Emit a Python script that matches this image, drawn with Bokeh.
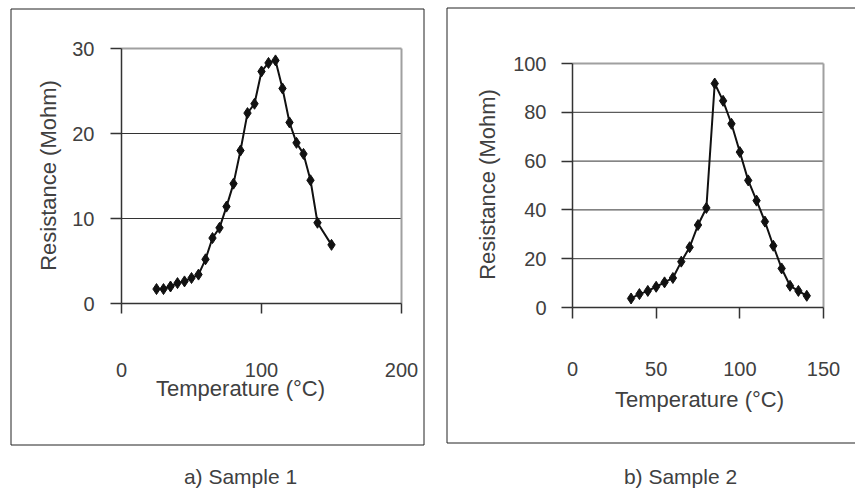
import math
from bokeh.plotting import figure
from bokeh.layouts import row
from bokeh.models import Range1d, FixedTicker, Label, BoxAnnotation, ColumnDataSource
from bokeh.embed import file_html
from bokeh.resources import INLINE

# ---- data ----
temp1 = [25, 30, 35, 40, 45, 50, 55, 60, 65, 70, 75, 80, 85, 90, 95, 100, 105, 110,
         115, 120, 125, 130, 135, 140, 150]
res1 = [1.7, 1.7, 2.0, 2.4, 2.6, 3.0, 3.4, 5.2, 7.7, 8.9, 11.4, 14.1, 18.0, 22.4, 23.5,
        27.3, 28.3, 28.6, 25.3, 21.3, 18.9, 17.6, 14.5, 9.5, 6.9]

temp2 = [35, 40, 45, 50, 55, 60, 65, 70, 75, 80, 85, 90, 95, 100, 105, 110, 115, 120,
         125, 130, 135, 140]
res2 = [3.7, 5.5, 6.8, 8.5, 10.3, 12.1, 18.8, 24.7, 33.8, 40.8, 91.8, 84.7, 75.3, 63.7,
        52.1, 43.8, 35.2, 25.3, 16.0, 8.9, 6.8, 4.8]

x_ticks1 = [0, 100, 200]
y_ticks1 = [0, 10, 20, 30]
x_ticks2 = [0, 50, 100, 150]
y_ticks2 = [0, 20, 40, 60, 80, 100]
captions = ["a) Sample 1", "b) Sample 2"]
x_label = "Temperature (°C)"
y_label = "Resistance (Mohm)"

FONT = "Liberation Sans"
TXT = "#404040"
H = 493


def make(temp, res, xt, yt, caption, g):
    il, ir, it, ib = g["inner"]

    def X(px):
        return xt[0] + (px - il) * (xt[-1] - xt[0]) / (ir - il)

    def Y(py):
        return yt[0] + (ib - py) * (yt[-1] - yt[0]) / (ib - it)

    cl, cr = g["canvas"]
    p = figure(output_backend="svg", toolbar_location=None,
               frame_width=cr - cl, frame_height=H,
               min_border_left=0, min_border_right=0,
               min_border_top=0, min_border_bottom=0,
               x_range=Range1d(X(cl), X(cr)), y_range=Range1d(Y(H), Y(0)))
    p.outline_line_color = None
    p.background_fill_color = "white"
    p.border_fill_color = "white"
    p.grid.visible = False

    # horizontal grid lines (inner ticks) and gray top/right edges of plot area
    inner = yt[1:-1]
    p.segment(x0=[xt[0]] * len(inner), x1=[xt[-1]] * len(inner), y0=inner, y1=inner,
              line_color="#333333", line_width=1)
    p.segment(x0=[xt[0], xt[-1]], x1=[xt[-1], xt[-1]], y0=[yt[-1], yt[0]], y1=[yt[-1], yt[-1]],
              line_color="#a0a0a0", line_width=2)

    src = ColumnDataSource(dict(x=temp, y=res))
    p.line("x", "y", source=src, line_color="#111111", line_width=2)
    p.scatter("x", "y", source=src, marker="diamond", size=11,
              fill_color="#111111", line_color="#111111")

    for ax, ticks, loc in ((p.xaxis[0], xt, yt[0]), (p.yaxis[0], yt, xt[0])):
        ax.ticker = FixedTicker(ticks=ticks)
        ax.fixed_location = loc
        ax.bounds = (ticks[0], ticks[-1])
        ax.minor_tick_line_color = None
        ax.major_tick_in = 0
        ax.axis_line_color = "#333333"
        ax.axis_line_width = 1.5
        ax.major_tick_line_color = "#333333"
        ax.major_tick_line_width = 1.5
        ax.major_label_text_font = FONT
        ax.major_label_text_font_size = "20px"
        ax.major_label_text_color = TXT
    p.xaxis.major_tick_out = g["xto"]
    p.yaxis.major_tick_out = 11
    p.xaxis.major_label_standoff = g["xls"]
    p.yaxis.major_label_standoff = g["yls"]

    # axis titles and caption
    tx, ty = g["xtitle"]
    p.add_layout(Label(x=X(tx), y=Y(ty), text=x_label, text_font=FONT, text_font_size="22px",
                       text_color=TXT, text_align="center", text_baseline="alphabetic"))
    vx, vy = g["ytitle"]
    p.add_layout(Label(x=X(vx), y=Y(vy), text=y_label, angle=math.pi / 2,
                       text_font=FONT, text_font_size="22px",
                       text_color=TXT, text_align="center", text_baseline="alphabetic"))
    cx, cy = g["cap"]
    p.add_layout(Label(x=X(cx), y=Y(cy), text=caption, text_font=FONT, text_font_size="21px",
                       text_color=TXT, text_align="center", text_baseline="alphabetic"))

    bl, br, bt, bb = g["box"]
    p.add_layout(BoxAnnotation(left=X(bl), right=X(br), top=Y(bt), bottom=Y(bb),
                               fill_alpha=0, fill_color=None,
                               line_color="#222222", line_alpha=1.0, line_width=1))
    return p


g1 = dict(canvas=(0, 436), inner=(121, 401, 48, 303),
          box=(10.5, 423.5, 8.5, 444.5), xto=10, xls=49, yls=16,
          xtitle=(240, 388), ytitle=(48, 175), cap=(240, 476))
g2 = dict(canvas=(436, 855), inner=(572, 823, 63, 307),
          box=(446.5, 880, 7.5, 442.5), xto=11, xls=43, yls=15,
          xtitle=(699, 399), ytitle=(487, 184), cap=(680, 476))

p1 = make(temp1, res1, x_ticks1, y_ticks1, captions[0], g1)
p2 = make(temp2, res2, x_ticks2, y_ticks2, captions[1], g2)

layout = row(p1, p2)
open("out.html", "w").write(file_html(layout, INLINE))
